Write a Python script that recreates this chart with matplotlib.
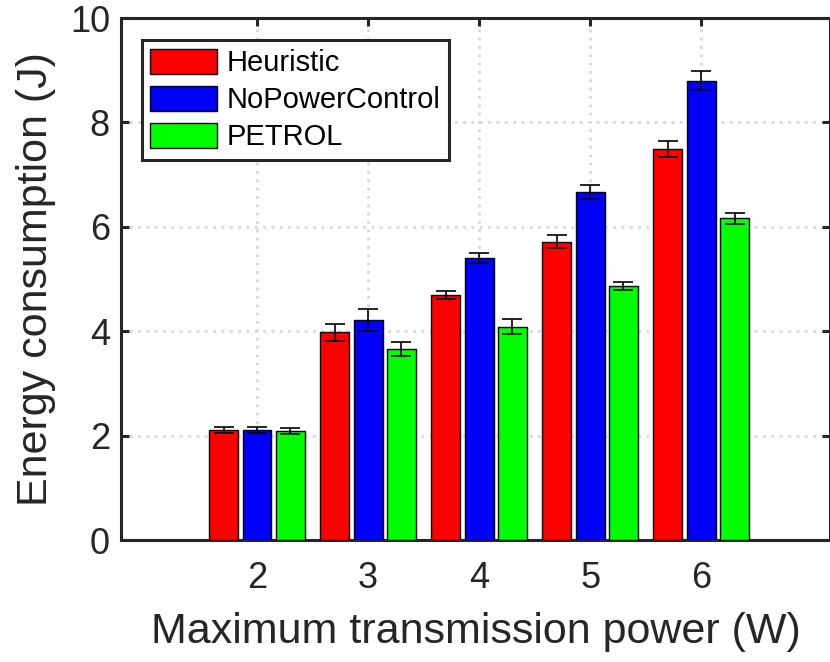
import matplotlib
matplotlib.use("Agg")
import matplotlib.pyplot as plt
import numpy as np

plt.rcParams['font.family'] = ['Liberation Sans', 'DejaVu Sans']

powers = [2, 3, 4, 5, 6]
tick_labels = ["2", "3", "4", "5", "6"]
series_names = ["Heuristic", "NoPowerControl", "PETROL"]
heuristic = [2.11, 3.98, 4.69, 5.71, 7.49]
heuristic_err = [0.06, 0.16, 0.08, 0.125, 0.16]
nopower = [2.11, 4.21, 5.40, 6.67, 8.80]
nopower_err = [0.06, 0.21, 0.09, 0.14, 0.18]
petrol = [2.09, 3.66, 4.09, 4.87, 6.16]
petrol_err = [0.06, 0.13, 0.14, 0.08, 0.11]
colors = ["#ff0000", "#0000ff", "#00ff00"]

dark = "#262626"
fig = plt.figure(figsize=(8.30, 6.62), dpi=100)
ax = fig.add_axes([121/830, 1-540/662, 709/830, 522/662])

x = np.array(powers, dtype=float)
width = 0.26
offsets = [-0.3, 0.0, 0.3]
vals = [heuristic, nopower, petrol]
errs = [heuristic_err, nopower_err, petrol_err]
for i in range(3):
    ax.bar(x + offsets[i], vals[i], width, color=colors[i], edgecolor="black",
           linewidth=1.0, label=series_names[i], zorder=3)
    ax.errorbar(x + offsets[i], vals[i], yerr=errs[i], fmt='none', ecolor='black',
                elinewidth=1.2, capsize=7, capthick=1.2, zorder=4)

ax.set_xlim(0.775, 7.16)
ax.set_ylim(0, 10)
ax.set_xticks(powers)
ax.set_xticklabels(tick_labels)
ax.set_yticks([0, 2, 4, 6, 8, 10])
ax.grid(True, linestyle=(0, (1, 2)), color="#d9d9d9", linewidth=2.0, zorder=0)
ax.set_axisbelow(True)
for s in ax.spines.values():
    s.set_linewidth(2.2)
    s.set_color(dark)
ax.tick_params(direction='in', length=6, width=2.2, color=dark, labelcolor=dark,
               labelsize=26, top=True, right=True)
ax.tick_params(axis='x', pad=15)
ax.tick_params(axis='y', pad=8)
ax.set_xlabel("Maximum transmission power (W)", fontsize=31, color=dark, labelpad=12)
ax.set_ylabel("Energy consumption (J)", fontsize=31, color=dark, labelpad=10)

leg = ax.legend(loc='upper left', bbox_to_anchor=(0.029, 0.958), borderaxespad=0,
                fontsize=21, fancybox=False, framealpha=1, edgecolor=dark,
                handlelength=2.3, handleheight=0.95, handletextpad=0.3,
                labelspacing=0.29, borderpad=0.3)
leg.get_frame().set_linewidth(2.2)

fig.savefig("out.png", dpi=100)
